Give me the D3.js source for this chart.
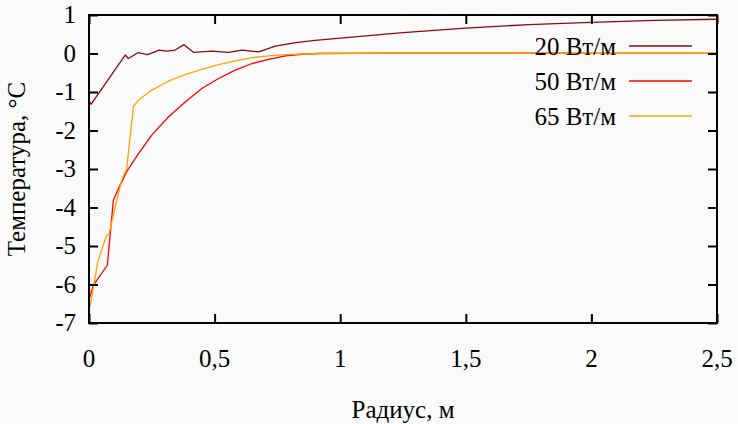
<!DOCTYPE html>
<html>
<head>
<meta charset="utf-8">
<script src="https://cdn.jsdelivr.net/npm/d3@7"></script>
<style>
  body { margin: 0; background: #fafafa; }
  svg { display: block; }
</style>
</head>
<body>
<script>
// data (radius, m / temperature, °C)
const r20 = [0, 0.008, 0.144, 0.157, 0.194, 0.234, 0.279, 0.31, 0.343, 0.378, 0.416, 0.489, 0.556, 0.609, 0.676, 0.742, 0.822, 0.9, 1.0, 1.25, 1.5, 1.75, 2.0, 2.25, 2.5];
const t20 = [-1.22, -1.32, -0.04, -0.13, 0.02, -0.03, 0.09, 0.06, 0.09, 0.23, 0.03, 0.06, 0.03, 0.09, 0.04, 0.19, 0.28, 0.34, 0.40, 0.54, 0.66, 0.75, 0.81, 0.86, 0.89];

const r50 = [0.004, 0.017, 0.073, 0.097, 0.117, 0.15, 0.197, 0.25, 0.316, 0.383, 0.449, 0.516, 0.582, 0.649, 0.715, 0.782, 0.848, 0.915, 1.2, 1.6, 2.0, 2.5];
const t50 = [-6.32, -6.02, -5.5, -3.81, -3.51, -3.07, -2.6, -2.12, -1.65, -1.26, -0.91, -0.65, -0.43, -0.26, -0.15, -0.06, -0.02, 0, 0.01, 0.01, 0.02, 0.02];

const r65 = [0.004, 0.035, 0.07, 0.08, 0.13, 0.15, 0.177, 0.197, 0.25, 0.316, 0.383, 0.449, 0.516, 0.582, 0.649, 0.715, 0.782, 0.915, 1.2, 1.6, 2.0, 2.5];
const t65 = [-6.58, -5.41, -4.72, -4.68, -3.29, -2.99, -1.37, -1.21, -0.95, -0.72, -0.55, -0.41, -0.29, -0.19, -0.11, -0.06, -0.03, 0, 0.01, 0.01, 0.02, 0.02];

const seriesNames = ["20 Вт/м", "50 Вт/м", "65 Вт/м"];
const seriesColors = ["#8b0a0a", "#ff0000", "#ffa500"];

const xTicks = [0, 0.5, 1, 1.5, 2, 2.5];
const yTicks = [1, 0, -1, -2, -3, -4, -5, -6, -7];

const series = [
  r20.map((r, i) => [r, t20[i]]),
  r50.map((r, i) => [r, t50[i]]),
  r65.map((r, i) => [r, t65[i]])
];

// dimensions and margins
const W = 738, H = 424;
const margin = { top: 15, right: 21, bottom: 101, left: 89 };
const width = W - margin.left - margin.right,
      height = H - margin.top - margin.bottom;

const FONT = "Liberation Serif";
const fs = 25;

const x = d3.scaleLinear().domain([0, 2.5]).range([0, width]);
const y = d3.scaleLinear().domain([-7, 1]).range([height, 0]);

const fmt = d => String(d).replace(".", ",");

const svg = d3.select("body").append("svg")
  .attr("width", W)
  .attr("height", H)
  .attr("font-family", FONT)
  .style("background", "#fafafa");

const g = svg.append("g")
  .attr("transform", `translate(${margin.left},${margin.top})`);

// lines
const line = d3.line().x(d => x(d[0])).y(d => y(d[1]));
series.forEach((s, i) => {
  g.append("path")
    .datum(s)
    .attr("fill", "none")
    .attr("stroke", seriesColors[i])
    .attr("stroke-width", 1.3)
    .attr("stroke-linejoin", "round")
    .attr("d", line);
});

// axes, gnuplot style: inward ticks on all four sides (labels drawn below)
const tickLen = 9;
const noDomain = a => a.select(".domain").remove();
g.append("g")
  .attr("transform", `translate(0,${height})`)
  .call(d3.axisBottom(x).tickValues(xTicks).tickSize(-tickLen).tickFormat(""))
  .call(noDomain);
g.append("g")
  .call(d3.axisTop(x).tickValues(xTicks).tickSize(-tickLen).tickFormat(""))
  .call(noDomain);
g.append("g")
  .call(d3.axisLeft(y).tickValues(yTicks).tickSize(-tickLen).tickFormat(""))
  .call(noDomain);
g.append("g")
  .attr("transform", `translate(${width},0)`)
  .call(d3.axisRight(y).tickValues(yTicks).tickSize(-tickLen).tickFormat(""))
  .call(noDomain);
g.selectAll(".tick line").attr("stroke", "#000").attr("stroke-width", 2);

// tick labels
g.selectAll(".xlab")
  .data(xTicks)
  .enter().append("text")
  .attr("class", "xlab")
  .attr("x", d => x(d))
  .attr("y", height + 44)
  .attr("text-anchor", "middle")
  .attr("font-family", FONT)
  .attr("font-size", fs)
  .text(fmt);

g.selectAll(".ylab")
  .data(yTicks)
  .enter().append("text")
  .attr("class", "ylab")
  .attr("x", -13)
  .attr("y", d => y(d))
  .attr("dy", "0.33em")
  .attr("text-anchor", "end")
  .attr("font-family", FONT)
  .attr("font-size", fs)
  .text(d => d);

// border
g.append("rect")
  .attr("width", width)
  .attr("height", height)
  .attr("fill", "none")
  .attr("stroke", "#000")
  .attr("stroke-width", 2);

// legend
const legend = g.append("g");
seriesNames.forEach((name, i) => {
  const ly = 31 + i * 35;
  legend.append("text")
    .attr("x", 527)
    .attr("y", ly)
    .attr("dy", "0.35em")
    .attr("text-anchor", "end")
    .attr("font-family", FONT)
    .attr("font-size", fs)
    .text(name);
  legend.append("line")
    .attr("x1", 540).attr("x2", 603)
    .attr("y1", ly).attr("y2", ly)
    .attr("stroke", seriesColors[i])
    .attr("stroke-width", 1.3);
});

// axis titles
svg.append("text")
  .attr("x", margin.left + width / 2)
  .attr("y", 418)
  .attr("text-anchor", "middle")
  .attr("font-family", FONT)
  .attr("font-size", fs)
  .text("Радиус, м");

svg.append("text")
  .attr("transform", `translate(25,${margin.top + height / 2}) rotate(-90)`)
  .attr("text-anchor", "middle")
  .attr("font-family", FONT)
  .attr("font-size", fs)
  .text("Температура, °C");
</script>
</body>
</html>
